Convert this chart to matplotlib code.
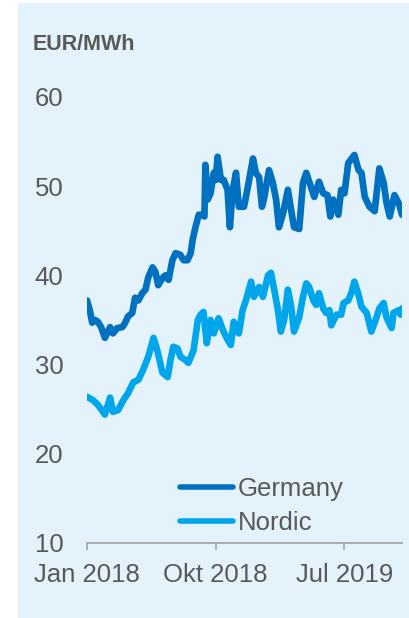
import matplotlib

matplotlib.use("Agg")
import matplotlib.pyplot as plt
import numpy as np
from matplotlib.patches import Rectangle

# Baseload power prices, EUR/MWh
germany_dates = [
    "2018-01-01", "2018-01-07", "2018-01-12", "2018-01-18", "2018-01-24", "2018-01-31",
    "2018-02-08", "2018-02-19", "2018-02-25", "2018-03-06", "2018-03-17", "2018-03-23",
    "2018-03-29", "2018-04-07", "2018-04-13", "2018-04-20", "2018-04-28", "2018-05-05",
    "2018-05-11", "2018-05-20", "2018-05-26", "2018-06-01", "2018-06-10", "2018-06-16",
    "2018-06-23", "2018-07-01", "2018-07-08", "2018-07-18", "2018-07-25", "2018-08-02",
    "2018-08-09", "2018-08-13", "2018-08-19", "2018-08-26", "2018-09-03", "2018-09-07",
    "2018-09-09", "2018-09-14", "2018-09-20", "2018-09-27", "2018-10-01", "2018-10-05",
    "2018-10-12", "2018-10-18", "2018-10-26", "2018-10-31", "2018-11-06", "2018-11-13",
    "2018-11-19", "2018-11-30", "2018-12-08", "2018-12-19", "2018-12-25", "2019-01-01",
    "2019-01-07", "2019-01-11", "2019-01-22", "2019-01-30", "2019-02-06", "2019-02-12",
    "2019-02-21", "2019-03-03", "2019-03-10", "2019-03-16", "2019-03-27", "2019-04-04",
    "2019-04-11", "2019-04-21", "2019-04-28", "2019-05-08", "2019-05-17", "2019-05-26",
    "2019-06-01", "2019-06-07", "2019-06-18", "2019-06-24", "2019-07-01", "2019-07-09",
    "2019-07-22", "2019-07-31", "2019-08-06", "2019-08-13", "2019-08-23", "2019-09-03",
    "2019-09-13", "2019-09-22", "2019-09-28", "2019-10-05", "2019-10-15", "2019-10-24",
    "2019-10-31",
]
germany_prices = [
    37.2, 36.1, 34.7, 35.0, 34.8, 34.2,
    33.0, 34.2, 33.5, 34.1, 34.2, 34.7,
    35.4, 35.8, 37.5, 37.2, 38.0, 38.4,
    39.8, 40.9, 40.4, 38.9, 39.7, 40.0,
    39.5, 41.7, 42.5, 42.3, 41.7, 41.7,
    42.5, 44.0, 45.4, 46.8, 46.8, 46.6,
    52.4, 48.5, 49.2, 51.5, 50.7, 53.3,
    50.7, 50.7, 49.6, 45.4, 49.6, 51.5,
    47.7, 47.7, 49.9, 53.1, 51.5, 51.0,
    47.7, 48.5, 51.8, 50.4, 48.5, 45.4,
    47.0, 49.6, 47.3, 45.4, 45.2, 50.4,
    51.5, 49.9, 48.8, 50.5, 49.2, 49.0,
    46.6, 48.5, 46.8, 49.6, 49.2, 52.6,
    53.5, 51.8, 51.5, 48.8, 47.7, 47.2,
    52.0, 50.4, 48.2, 46.6, 49.0, 48.1,
    46.8,
]

nordic_dates = [
    "2018-01-01", "2018-01-14", "2018-01-24", "2018-02-08", "2018-02-19", "2018-02-25",
    "2018-03-08", "2018-03-19", "2018-03-29", "2018-04-09", "2018-04-20", "2018-04-30",
    "2018-05-11", "2018-05-22", "2018-05-30", "2018-06-10", "2018-06-21", "2018-06-27",
    "2018-07-03", "2018-07-12", "2018-07-18", "2018-07-29", "2018-08-04", "2018-08-15",
    "2018-08-24", "2018-08-30", "2018-09-05", "2018-09-12", "2018-09-20", "2018-09-27",
    "2018-10-07", "2018-10-16", "2018-10-26", "2018-11-02", "2018-11-08", "2018-11-19",
    "2018-11-27", "2018-12-04", "2018-12-15", "2018-12-21", "2019-01-01", "2019-01-09",
    "2019-01-20", "2019-01-26", "2019-02-02", "2019-02-10", "2019-02-16", "2019-02-23",
    "2019-03-03", "2019-03-10", "2019-03-16", "2019-03-27", "2019-04-04", "2019-04-11",
    "2019-04-17", "2019-04-26", "2019-05-02", "2019-05-08", "2019-05-17", "2019-05-23",
    "2019-05-30", "2019-06-03", "2019-06-14", "2019-06-24", "2019-06-29", "2019-07-09",
    "2019-07-16", "2019-07-22", "2019-07-31", "2019-08-06", "2019-08-17", "2019-08-27",
    "2019-09-07", "2019-09-13", "2019-09-22", "2019-09-28", "2019-10-09", "2019-10-13",
    "2019-10-24", "2019-10-28", "2019-10-31",
]
nordic_prices = [
    26.4, 26.0, 25.5, 24.4, 26.3, 24.7,
    24.9, 26.0, 26.8, 28.0, 28.3, 29.4,
    30.9, 33.0, 31.6, 29.1, 28.6, 30.5,
    32.0, 31.8, 30.9, 30.5, 30.2, 31.6,
    35.0, 35.6, 35.9, 32.4, 35.0, 33.5,
    35.2, 33.9, 32.8, 32.2, 34.8, 33.5,
    36.1, 37.2, 39.3, 37.6, 38.7, 37.6,
    40.0, 40.3, 38.4, 36.1, 33.7, 35.0,
    38.4, 36.5, 33.7, 35.3, 37.6, 39.1,
    38.7, 37.2, 36.7, 38.0, 36.3, 35.8,
    36.1, 34.4, 35.6, 35.6, 36.9, 37.2,
    38.1, 39.3, 37.8, 36.5, 35.8, 33.7,
    35.3, 36.3, 36.9, 35.3, 34.1, 35.8,
    36.1, 35.6, 36.3,
]

tick_dates = ["2018-01-01", "2018-10-01", "2019-07-01"]
tick_labels = ["Jan 2018", "Okt 2018", "Jul 2019"]
y_ticks = [10, 20, 30, 40, 50, 60]

GREY = "#595959"
plt.rcParams["font.family"] = ["Liberation Sans", "DejaVu Sans"]

W, H = 409, 618
fig = plt.figure(figsize=(W / 100, H / 100), dpi=100)
fig.patch.set_facecolor("white")
fig.patches.append(
    Rectangle((18 / W, 0), 1, 1 - 3 / H, transform=fig.transFigure, facecolor="#E4F2FC", edgecolor="none", zorder=-1)
)

ax = fig.add_axes([87 / W, (H - 543) / H, 315 / W, 446 / H])
ax.set_zorder(1)
ax.set_facecolor("none")

de_x = np.array(germany_dates, dtype="datetime64[D]")
no_x = np.array(nordic_dates, dtype="datetime64[D]")
ax.plot(de_x, germany_prices, color="#0070C0", lw=4.8, solid_joinstyle="round", solid_capstyle="round", label="Germany")
ax.plot(no_x, nordic_prices, color="#00A6EB", lw=4.8, solid_joinstyle="round", solid_capstyle="round", label="Nordic")

ax.set_xlim(de_x[0], de_x[-1])
ax.set_ylim(10, 60)
ax.set_yticks(y_ticks)
ax.set_xticks(np.array(tick_dates, dtype="datetime64[D]"))
ax.set_xticklabels(tick_labels)

for side in ("top", "right", "left"):
    ax.spines[side].set_visible(False)
ax.spines["bottom"].set_color("#A6A6A6")
ax.spines["bottom"].set_linewidth(1.3)
ax.tick_params(axis="y", length=0, pad=17, labelsize=18.5, labelcolor=GREY)
ax.tick_params(axis="x", length=5, width=1.3, color="#A6A6A6", pad=9.5, labelsize=18.5, labelcolor=GREY)

leg = ax.legend(
    loc="upper left",
    bbox_to_anchor=(180 / W, (H - 477) / H),
    bbox_transform=fig.transFigure,
    frameon=False,
    fontsize=18.5,
    handlelength=2.05,
    handletextpad=0.2,
    labelspacing=0.38,
    borderpad=0,
    borderaxespad=0,
)
for text in leg.get_texts():
    text.set_color(GREY)
for line in leg.get_lines():
    line.set_linewidth(4)

fig.text(33 / W, 1 - 45 / H, "EUR/MWh", ha="left", va="center", fontsize=15.5, fontweight="bold", color=GREY)

fig.savefig("out.png", dpi=100)
